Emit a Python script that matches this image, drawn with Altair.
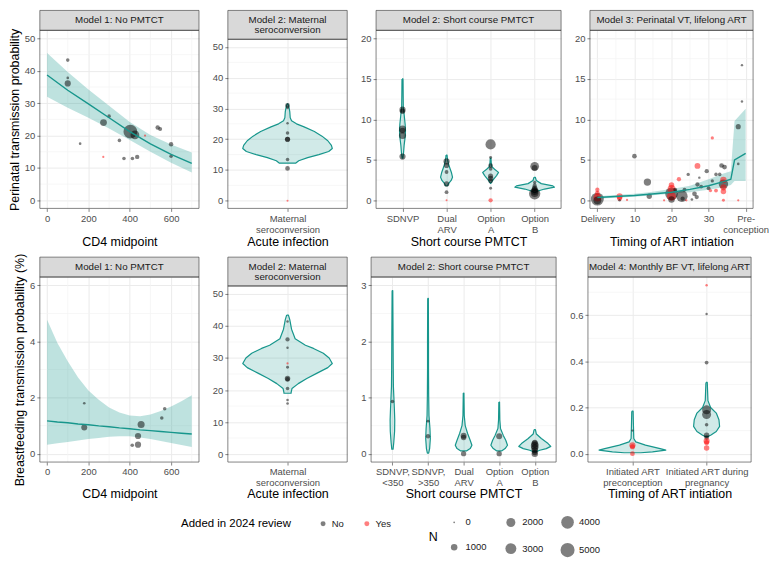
import json
import altair as alt
import pandas as pd

FONT = "Liberation Sans"
TEAL = "#17968c"
MAJOR = "#ebebeb"
MINOR = "#f3f3f3"
DARK = "#333333"

# ---------------- data ----------------
# Model 1 (perinatal): CD4 midpoint vs transmission
m1p_cd4 = [100, 100, 100, 160, 272, 273, 300, 350, 372, 403, 413, 425, 436, 474, 535, 547, 600, 600]
m1p_y = [43.3, 37.8, 36.1, 17.5, 13.4, 24.0, 26.0, 18.5, 12.9, 21.2, 12.9, 20.2, 13.4, 20.0, 22.5, 22.0, 17.3, 13.6]
m1p_add = ["No", "No", "No", "No", "Yes", "No", "No", "No", "No", "No", "No", "No", "No", "Yes", "No", "No", "No", "No"]
m1p_n = [250, 100, 900, 100, 50, 1100, 250, 250, 250, 4800, 250, 1900, 420, 50, 420, 330, 420, 250]
m1p_fx = [0, 100, 200, 300, 400, 500, 600, 700]
m1p_fit = [38.7, 34.0, 29.8, 25.5, 21.2, 17.4, 14.2, 11.4]
m1p_lo = [32.0, 28.6, 25.5, 22.2, 18.6, 15.0, 11.6, 8.6]
m1p_hi = [45.5, 39.6, 34.2, 29.2, 24.2, 20.2, 17.2, 14.8]

# Model 2 maternal seroconversion (perinatal)
m2p_y = [31.0, 30.2, 25.2, 22.0, 20.0, 20.0, 13.4, 10.5, 0.0]
m2p_add = ["No"] * 8 + ["Yes"]
m2p_n = [500, 150, 80, 250, 600, 600, 250, 500, 30]
m2p_vy = [31.5, 30.5, 29, 27, 26, 25, 24, 22.5, 21, 19.5, 18, 17, 16, 15, 14, 13, 12.2]
m2p_vw = [0.01, 0.03, 0.05, 0.06, 0.09, 0.2, 0.37, 0.6, 0.77, 0.9, 0.98, 1.0, 0.92, 0.7, 0.45, 0.25, 0.18]

# Model 2 short course PMTCT (perinatal)
m2s_cats = [["SDNVP"], ["Dual", "ARV"], ["Option", "A"], ["Option", "B"]]
m2s_cat = [1] * 6 + [2] * 6 + [3] * 9 + [4] * 9
m2s_y = [11.2, 11.0, 8.8, 8.6, 8.0, 5.4,
         4.8, 4.3, 3.5, 2.0, 1.0, 0.0,
         6.9, 5.3, 4.3, 3.9, 3.0, 2.7, 2.4, 1.5, 0.0,
         4.2, 4.0, 2.2, 1.8, 1.5, 1.3, 1.1, 0.9, 0.8]
m2s_add = ["No"] * 11 + ["Yes"] + ["No"] * 8 + ["Yes"] + ["No"] * 9
m2s_n = [900, 700, 1200, 800, 1200, 900,
         900, 600, 300, 700, 300, 30,
         2600, 150, 500, 300, 600, 700, 500, 150, 400,
         1900, 800, 200, 400, 700, 900, 1200, 1500, 3200]
m2s_vy = [[15.0, 13.0, 11.4, 10.6, 9.4, 8.6, 7.8, 6.8, 5.8, 5.2],
          [5.6, 5.0, 4.2, 3.4, 2.85, 2.45, 2.06, 1.8],
          [5.2, 4.6, 4.2, 3.84, 3.45, 3.05, 2.65, 2.26, 2.1],
          [2.85, 2.45, 2.06, 1.78, 1.62, 1.39, 1.15, 0.95]]
m2s_vw = [[0.025, 0.033, 0.042, 0.083, 0.133, 0.15, 0.133, 0.083, 0.05, 0.017],
          [0.025, 0.05, 0.133, 0.25, 0.3, 0.233, 0.1, 0.05],
          [0.017, 0.033, 0.05, 0.2, 0.4, 0.3, 0.167, 0.05, 0.017],
          [0.033, 0.083, 0.333, 0.917, 1.0, 0.5, 0.167, 0.033]]

# Model 3 perinatal VT by timing of ART initiation
m3_x = [0, 0, 0, 0, 0, 6, 6, 6, 8, 10, 13.5, 14, 18, 20, 20, 20, 20, 20, 22.8, 21, 22, 23.5, 23, 24,
        24.5, 25.5, 26.2, 26.8, 27, 27.5, 27, 28, 29.5, 30, 30.5, 31, 31, 32, 32, 33.5, 34.3, 33,
        34, 34, 34, 34, 34, 38, 38, 39, 39, 38]
m3_y = [0.15, 0.35, 0.9, 1.3, 0.0, 0.5, 0.25, 0.0, 0.05, 5.45, 2.25, 0.5, 0.0, 0.8, 1.4, 1.9, 0.5, 0.1,
        0.5, 1.3, 2.6, 1.3, 0.2, 0.0, 3.2, 0.1, 0.8, 0.4, 4.25, 2.8, 1.95, 1.7, 3.6, 1.5, 1.2, 7.7,
        2.4, 3.2, 1.2, 4.3, 4.1, 3.2, 2.0, 2.5, 1.6, 1.1, 0.0, 9.1, 4.5, 16.7, 12.2, 0.0]
m3_add = ["No", "Yes", "Yes", "Yes", "No", "Yes", "Yes", "No", "Yes", "No", "No", "No", "Yes", "No",
          "Yes", "Yes", "Yes", "No", "No", "No", "Yes", "No", "No", "Yes", "No", "No", "No", "No",
          "Yes", "No", "No", "No", "No", "No", "Yes", "Yes", "No", "No", "Yes", "No", "No", "No",
          "No", "Yes", "Yes", "Yes", "Yes", "No", "No", "No", "No", "Yes"]
m3_n = [4200, 1500, 500, 400, 1500, 900, 600, 100, 50, 480, 1300, 640, 50, 4000, 1500, 700, 2000, 1000,
        3300, 300, 400, 300, 400, 60, 200, 100, 500, 400, 800, 80, 400, 300, 400, 300, 200, 200,
        200, 250, 300, 500, 500, 250, 2200, 1000, 900, 700, 150, 600, 100, 80, 80, 50]
m3_fx = [0, 6, 10, 14, 20, 25, 30, 34, 36, 37, 40]
m3_fit = [0.35, 0.5, 0.6, 0.75, 1.0, 1.35, 1.8, 2.3, 2.6, 5.0, 5.8]
m3_lo = [0.2, 0.35, 0.45, 0.6, 0.8, 1.0, 1.3, 1.6, 1.9, 2.4, 2.4]
m3_hi = [0.5, 0.7, 0.8, 1.0, 1.4, 1.8, 2.6, 3.3, 3.6, 9.8, 11.3]

# Model 1 breastfeeding
m1b_cd4 = [180, 180, 412, 440, 440, 455, 555, 569]
m1b_y = [1.8, 0.93, 0.3, 0.32, 0.63, 1.04, 1.27, 1.6]
m1b_add = ["No"] * 8
m1b_n = [100, 850, 250, 900, 900, 1200, 250, 250]
m1b_fx = [0, 50, 100, 150, 200, 250, 300, 350, 400, 450, 500, 550, 600, 650, 700]
m1b_fit = [1.17, 1.13, 1.10, 1.06, 1.03, 0.99, 0.96, 0.92, 0.89, 0.85, 0.82, 0.79, 0.76, 0.73, 0.70]
m1b_lo = [0.32, 0.37, 0.42, 0.47, 0.52, 0.56, 0.60, 0.62, 0.62, 0.58, 0.52, 0.45, 0.38, 0.31, 0.24]
m1b_hi = [4.78, 3.95, 3.3, 2.72, 2.25, 1.92, 1.65, 1.47, 1.36, 1.33, 1.4, 1.52, 1.68, 1.87, 2.08]

# Model 2 maternal seroconversion (breastfeeding)
m2b_y = [41.4, 35.8, 33.2, 28.3, 27.1, 23.6, 23.3, 20.5, 16.9, 15.8]
m2b_add = ["No", "No", "No", "Yes", "No", "No", "No", "No", "No", "No"]
m2b_n = [80, 400, 80, 50, 150, 700, 500, 250, 100, 100]
m2b_vy = [43.4, 42, 39, 36, 34, 33, 31.5, 30, 28.3, 27, 25.2, 23.6, 22, 20.5, 19.2, 19.0]
m2b_vw = [0.02, 0.05, 0.09, 0.17, 0.4, 0.58, 0.8, 0.93, 1.0, 0.9, 0.65, 0.43, 0.24, 0.1, 0.08, 0.08]

# Model 2 short course PMTCT (breastfeeding)
m2c_cats = [["SDNVP,", "<350"], ["SDNVP,", ">350"], ["Dual", "ARV"], ["Option", "A"], ["Option", "B"]]
m2c_cat = [1, 2, 2, 3, 3, 3, 4, 4, 5, 5, 5, 5, 5, 5, 5]
m2c_y = [0.93, 0.58, 0.31, 0.32, 0.29, 0.0, 0.31, 0.0, 0.2, 0.17, 0.14, 0.1, 0.06, 0.02, 0.0]
m2c_add = ["No"] * 15
m2c_n = [250, 150, 420, 850, 700, 640, 850, 640, 700, 1200, 1500, 1200, 900, 700, 1000]
m2c_vy = [[2.91, 2.5, 2.0, 1.5, 1.2, 1.0, 0.8, 0.6, 0.4, 0.2, 0.08],
          [2.77, 2.0, 1.5, 1.04, 0.68, 0.45, 0.27, 0.09, 0.01],
          [1.08, 0.68, 0.5, 0.36, 0.24, 0.15, 0.09, 0.05],
          [0.92, 0.6, 0.45, 0.33, 0.24, 0.15, 0.09, 0.05],
          [0.43, 0.35, 0.27, 0.18, 0.13, 0.09, 0.06, 0.03]]
m2c_vw = [[0.02, 0.03, 0.04, 0.05, 0.06, 0.09, 0.12, 0.145, 0.135, 0.083, 0.04],
          [0.02, 0.03, 0.03, 0.04, 0.06, 0.12, 0.145, 0.1, 0.04],
          [0.02, 0.04, 0.1, 0.25, 0.41, 0.52, 0.41, 0.2],
          [0.02, 0.04, 0.08, 0.25, 0.41, 0.52, 0.37, 0.17],
          [0.04, 0.1, 0.41, 0.83, 1.0, 0.72, 0.31, 0.06]]

# Model 4 monthly BF VT
m4_cats = [["Initiated ART", "preconception"], ["Initiated ART during", "pregnancy"]]
m4_cat = [1, 1, 1, 1, 2, 2, 2, 2, 2, 2, 2, 2, 2, 2, 2]
m4_y = [0.1, 0.036, 0.03, 0.0, 0.73, 0.606, 0.395, 0.19, 0.17, 0.125, 0.08, 0.07, 0.055, 0.048, 0.025]
m4_add = ["No", "Yes", "Yes", "Yes", "Yes", "No", "No", "No", "No", "No", "No", "No", "Yes", "Yes", "Yes"]
m4_n = [50, 900, 600, 500, 80, 80, 300, 2000, 2000, 250, 700, 500, 900, 600, 700]
m4_vy = [[0.184, 0.12, 0.066, 0.051, 0.037, 0.022, 0.015, 0.008, 0.004],
         [0.309, 0.27, 0.23, 0.2, 0.176, 0.147, 0.118, 0.096, 0.08, 0.074]]
m4_vw = [[0.02, 0.03, 0.04, 0.1, 0.39, 0.83, 1.0, 0.6, 0.25],
         [0.02, 0.03, 0.04, 0.12, 0.29, 0.37, 0.39, 0.29, 0.12, 0.03]]

# ---------------- helpers ----------------
cscale = alt.Scale(domain=["No", "Yes"], range=["black", "red"])
sscale = alt.Scale(domain=[0, 5000], range=[3, 200])
cleg = alt.Legend(title="Added in 2024 review", orient="none", legendX=142, legendY=491,
                  direction="horizontal", titleOrient="left", symbolSize=25, symbolOpacity=0.5,
                  symbolStrokeWidth=0, labelFontSize=9.5, titleFontSize=11.5, titleFontWeight="normal",
                  columnPadding=18, titlePadding=27, titleBaseline="middle", labelColor="#1a1a1a")
sleg = alt.Legend(title="N", orient="none", legendX=391, legendY=488, direction="horizontal",
                  columns=3, values=[0, 2000, 4000, 1000, 3000, 5000], titleOrient="left",
                  symbolFillColor="black", symbolOpacity=0.5, symbolStrokeWidth=0,
                  labelFontSize=9.5, titleFontSize=12.5, titleFontWeight="normal",
                  columnPadding=16, rowPadding=13, titlePadding=8, titleAnchor="middle",
                  titleBaseline="middle", labelColor="#1a1a1a", format="d")


def pts(x, y, add, n):
    return pd.DataFrame({"x": x, "y": y, "added": add, "n": n})


def violins(vys, vws):
    """Closed outline of each violin: left side top->bottom, right side bottom->top."""
    rows = []
    for i, (ys, ws) in enumerate(zip(vys, vws)):
        c = i + 1
        ring = [(c - 0.45 * w, yv) for yv, w in zip(ys, ws)]
        ring += [(c + 0.45 * w, yv) for yv, w in reversed(list(zip(ys, ws)))]
        ring.append(ring[0])
        for k, (xv, yv) in enumerate(ring):
            rows.append({"g": c, "k": k, "x": xv, "y": yv})
    return pd.DataFrame(rows)


def cat_axis(labels, title, ty):
    expr = json.dumps(labels) + "[datum.value - 1]"
    return alt.Axis(values=list(range(1, len(labels) + 1)), labelExpr=expr, title=title, titleY=ty,
                    labelLineHeight=11, labelFlush=False, labelOverlap=False)


def panel(W, H, top_off, strip, xdom, ydom, xaxis, yaxis, xminor=(), yminor=(),
          ribbon=None, line=None, vio=None, points=None):
    if top_off:
        ys = alt.Scale(domain=ydom, range=[H, top_off], nice=False, zero=False)
    else:
        ys = alt.Scale(domain=ydom, nice=False, zero=False)
    xs = alt.Scale(domain=xdom, nice=False, zero=False)

    def X(f):
        return alt.X(f, type="quantitative", scale=xs, axis=xaxis)

    def Y(f):
        return alt.Y(f, type="quantitative", scale=ys, axis=yaxis)

    layers = []
    if xminor:
        layers.append(alt.Chart(pd.DataFrame({"v": list(xminor)})).mark_rule(
            color=MINOR, strokeWidth=0.7).encode(x=X("v")))
    if yminor:
        layers.append(alt.Chart(pd.DataFrame({"v": list(yminor)})).mark_rule(
            color=MINOR, strokeWidth=0.7).encode(y=Y("v")))
    if ribbon is not None:
        layers.append(alt.Chart(ribbon).mark_area(color=TEAL, opacity=0.28).encode(
            x=X("x"), y=Y("lo"), y2=alt.Y2("hi")))
    if vio is not None:
        layers.append(alt.Chart(vio).mark_line(fill=TEAL, fillOpacity=0.2, stroke=TEAL,
                                               strokeWidth=1.2, strokeJoin="round").encode(
            x=X("x"), y=Y("y"), detail="g:N", order=alt.Order("k:Q")))
    if points is not None:
        layers.append(alt.Chart(points).mark_circle(opacity=0.5).encode(
            x=X("x"), y=Y("y"),
            color=alt.Color("added:N", scale=cscale, legend=cleg),
            size=alt.Size("n:Q", scale=sscale, legend=sleg)))
    if line is not None:
        layers.append(alt.Chart(line).mark_line(color=TEAL, strokeWidth=1.4).encode(
            x=X("x"), y=Y("fit")))
    one = pd.DataFrame({"a": [0]})
    lines = strip if isinstance(strip, list) else [strip]
    lh = 10
    layers.append(alt.Chart(one).mark_rect(fill="#d9d9d9", stroke=DARK, strokeWidth=0.6).encode(
        x=alt.value(0), x2=alt.value(W), y=alt.value(-20), y2=alt.value(top_off)))
    mid = (top_off - 20) / 2
    for j, txt in enumerate(lines):
        yy = mid + (j - (len(lines) - 1) / 2) * lh
        layers.append(alt.Chart(one).mark_text(text=txt, font=FONT, fontSize=9.8, color="#1a1a1a",
                                               baseline="middle", align="center").encode(
            x=alt.value(W / 2), y=alt.value(yy)))
    layers.append(alt.Chart(one).mark_rect(fill="transparent", stroke=DARK, strokeWidth=0.6).encode(
        x=alt.value(0), x2=alt.value(W), y=alt.value(top_off), y2=alt.value(H)))
    return alt.layer(*layers).properties(width=W, height=H)


H1 = 179
H2 = 186
TY1 = 27
TY2 = 26
ymin50 = [5, 15, 25, 35, 45]

p1 = panel(160, H1, 0, "Model 1: No PMTCT", [-35, 735], [-2.5, 52.5],
           alt.Axis(values=[0, 200, 400, 600], title="CD4 midpoint", titleY=TY1, labelFlush=False),
           alt.Axis(values=[0, 10, 20, 30, 40, 50], title="Perinatal transmission probability"),
           xminor=[100, 300, 500, 700], yminor=ymin50,
           ribbon=pd.DataFrame({"x": m1p_fx, "lo": m1p_lo, "hi": m1p_hi}),
           line=pd.DataFrame({"x": m1p_fx, "fit": m1p_fit}),
           points=pts(m1p_cd4, m1p_y, m1p_add, m1p_n))

p2 = panel(120, H1, 9, ["Model 2: Maternal", "seroconversion"], [0.4, 1.6], [-2.5, 52.5],
           cat_axis([["Maternal", "seroconversion"]], "Acute infection", TY1),
           alt.Axis(values=[0, 10, 20, 30, 40, 50], title=None),
           yminor=ymin50,
           vio=violins([m2p_vy], [m2p_vw]),
           points=pts([1] * len(m2p_y), m2p_y, m2p_add, m2p_n))

p3 = panel(186, H1, 0, "Model 2: Short course PMTCT", [0.4, 4.6], [-1, 21],
           cat_axis(m2s_cats, "Short course PMTCT", TY1),
           alt.Axis(values=[0, 5, 10, 15, 20], title=None),
           yminor=[2.5, 7.5, 12.5, 17.5],
           vio=violins(m2s_vy, m2s_vw),
           points=pts(m2s_cat, m2s_y, m2s_add, m2s_n))

p4 = panel(164, H1, 0, "Model 3: Perinatal VT, lifelong ART", [-2, 42], [-1, 21],
           alt.Axis(values=[0, 10, 20, 30, 40], title="Timing of ART intiation", titleY=TY1,
                    labelExpr="datum.value == 0 ? 'Delivery' : datum.value == 40 ? ['Pre-', 'conception'] : datum.label",
                    labelLineHeight=11, labelFlush=False, labelOverlap=False),
           alt.Axis(values=[0, 5, 10, 15, 20], title=None),
           xminor=[5, 15, 25, 35], yminor=[2.5, 7.5, 12.5, 17.5],
           ribbon=pd.DataFrame({"x": m3_fx, "lo": m3_lo, "hi": m3_hi}),
           line=pd.DataFrame({"x": m3_fx, "fit": m3_fit}),
           points=pts(m3_x, m3_y, m3_add, m3_n))

p5 = panel(160, H2, 0, "Model 1: No PMTCT", [-35, 735], [-0.3, 6.3],
           alt.Axis(values=[0, 200, 400, 600], title="CD4 midpoint", titleY=TY2, labelFlush=False),
           alt.Axis(values=[0, 2, 4, 6], title="Breastfeeding transmission probability (%)"),
           xminor=[100, 300, 500, 700], yminor=[1, 3, 5],
           ribbon=pd.DataFrame({"x": m1b_fx, "lo": m1b_lo, "hi": m1b_hi}),
           line=pd.DataFrame({"x": m1b_fx, "fit": m1b_fit}),
           points=pts(m1b_cd4, m1b_y, m1b_add, m1b_n))

p6 = panel(120, H2, 9, ["Model 2: Maternal", "seroconversion"], [0.4, 1.6], [-2.5, 52.5],
           cat_axis([["Maternal", "seroconversion"]], "Acute infection", TY2),
           alt.Axis(values=[0, 10, 20, 30, 40, 50], title=None),
           yminor=ymin50,
           vio=violins([m2b_vy], [m2b_vw]),
           points=pts([1] * len(m2b_y), m2b_y, m2b_add, m2b_n))

p7 = panel(186, H2, 0, "Model 2: Short course PMTCT", [0.4, 5.6], [-0.15, 3.15],
           cat_axis(m2c_cats, "Short course PMTCT", TY2),
           alt.Axis(values=[0, 1, 2, 3], title=None),
           yminor=[0.5, 1.5, 2.5],
           vio=violins(m2c_vy, m2c_vw),
           points=pts(m2c_cat, m2c_y, m2c_add, m2c_n))

p8 = panel(164, H2, 0, "Model 4: Monthly BF VT, lifelong ART", [0.4, 2.6], [-0.0365, 0.766],
           cat_axis(m4_cats, "Timing of ART intiation", TY2),
           alt.Axis(values=[0, 0.2, 0.4, 0.6], format=".1f", title=None),
           yminor=[0.1, 0.3, 0.5, 0.7],
           vio=violins(m4_vy, m4_vw),
           points=pts(m4_cat, m4_y, m4_add, m4_n))

row1 = alt.hconcat(p1, p2, p3, p4, spacing=12)
row2 = alt.hconcat(p5, p6, p7, p8, spacing=12)
chart = alt.vconcat(row1, row2, spacing=4).properties(padding=0, background="white")
chart = chart.configure(font=FONT).configure_view(strokeWidth=0).configure_axis(
    domain=False, tickColor=DARK, tickSize=3, tickWidth=0.6, labelColor="#4d4d4d",
    labelFontSize=9.5, titleFontSize=12.5, titleFontWeight="normal", titleColor="black",
    gridColor=MAJOR, gridWidth=1, labelPadding=2, titlePadding=3)

chart.save("out.html", embed_options={"renderer": "svg", "actions": False})
